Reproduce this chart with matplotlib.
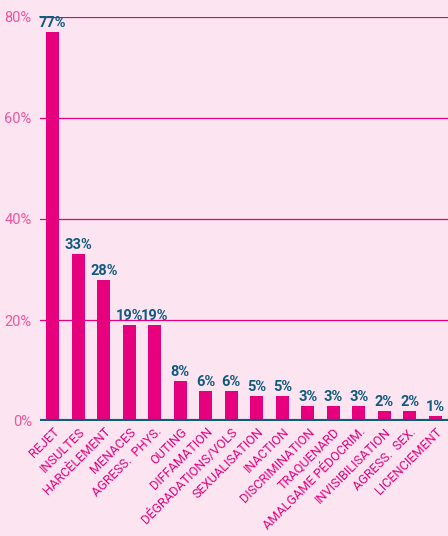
import matplotlib
matplotlib.use("Agg")
import matplotlib.pyplot as plt

categories = ["REJET", "INSULTES", "HARCÈLEMENT", "MENACES", "AGRESS.  PHYS.", "OUTING",
              "DIFFAMATION", "DÉGRADATIONS/VOLS", "SEXUALISATION", "INACTION",
              "DISCRIMINATION", "TRAQUENARD", "AMALGAME PÉDOCRIM.", "INVISIBILISATION",
              "AGRESS.  SEX.", "LICENCIEMENT"]
values = [77, 33, 28, 19, 19, 8, 6, 6, 5, 5, 3, 3, 3, 2, 2, 1]
yticks = [0, 20, 40, 60, 80]

BG = "#FCE4F0"
PINK = "#E6007E"
TICK = "#F0559E"
BLUE = "#0F5A80"

plt.rcParams['font.family'] = ['Roboto', 'DejaVu Sans']
fig = plt.figure(figsize=(4.48, 5.36), dpi=100, facecolor=BG)
W, H = 448, 536
ax = fig.add_axes([40 / W, 1 - 421 / H, 408 / W, (421 - 17) / H])
ax.set_facecolor(BG)
x = list(range(len(values)))
ax.bar(x, values, width=0.51, color=PINK, zorder=3)
ax.set_xlim(-0.5, len(values) - 0.5)
ax.set_ylim(0, 80)
ax.set_yticks(yticks)
ax.set_yticklabels([f"{v}%" for v in yticks], color=TICK, fontsize=10.5)
for v in yticks[1:]:
    ax.axhline(v, color=PINK, lw=0.9, zorder=1)
ax.axhline(0, color=BLUE, lw=3, zorder=4)
ax.tick_params(axis='y', length=0, pad=6)
ax.tick_params(axis='x', length=0, pad=3)
ax.set_xticks(x)
ax.set_xticklabels(categories, rotation=45, ha='right', rotation_mode='anchor',
                   color=PINK, fontsize=9.2)
for s in ax.spines.values():
    s.set_visible(False)
for xi, v in zip(x, values):
    ax.text(xi, v + 0.4, f"{v}%", ha='center', va='bottom', color=BLUE,
            fontsize=10.5, fontweight='bold', clip_on=False, zorder=5)
fig.savefig("out.png", dpi=100, facecolor=BG)
